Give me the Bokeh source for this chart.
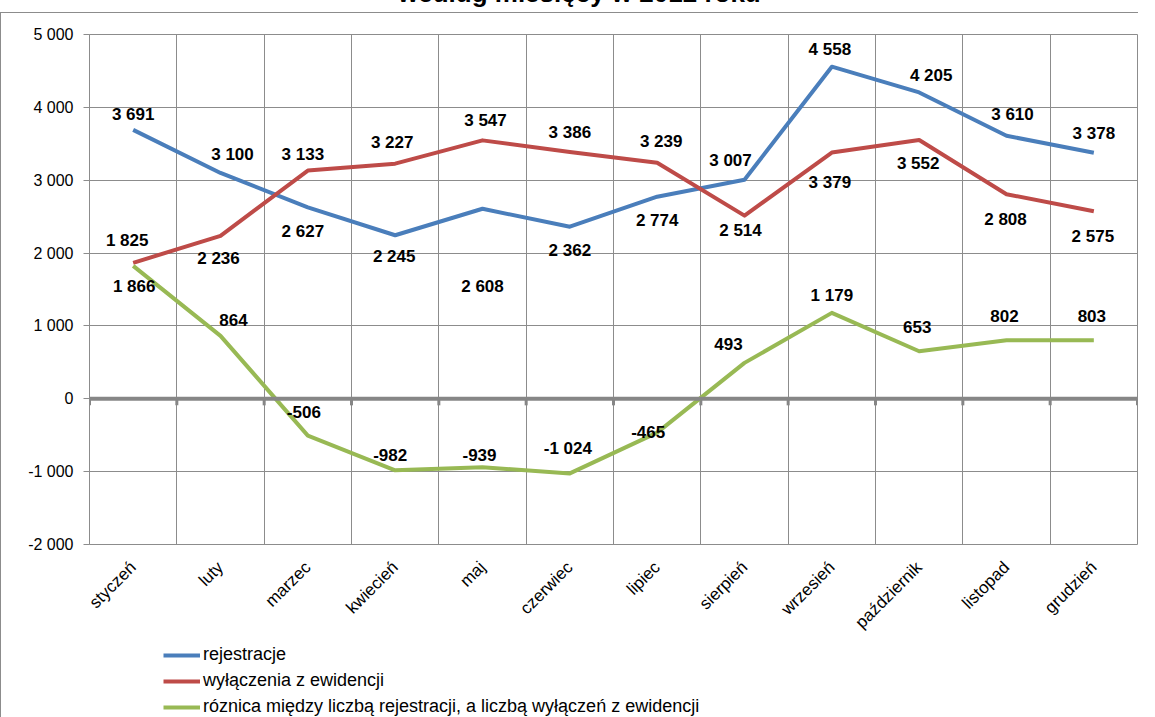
import math
from bokeh.plotting import figure
from bokeh.models import (Range1d, FixedTicker, Span, Legend, LegendItem,
                          ColumnDataSource, Div)
from bokeh.layouts import column
from bokeh.embed import file_html
from bokeh.resources import INLINE
from bokeh.core.properties import value

# ---------------- data ----------------
months = ["styczeń", "luty", "marzec", "kwiecień", "maj", "czerwiec", "lipiec",
          "sierpień", "wrzesień", "październik", "listopad", "grudzień"]
rejestracje = [3691, 3100, 2627, 2245, 2608, 2362, 2774, 3007, 4558, 4205, 3610, 3378]
wylaczenia = [1866, 2236, 3133, 3227, 3547, 3386, 3239, 2514, 3379, 3552, 2808, 2575]
roznica = [1825, 864, -506, -982, -939, -1024, -465, 493, 1179, 653, 802, 803]
y_ticks = [-2000, -1000, 0, 1000, 2000, 3000, 4000, 5000]
series_names = ["rejestracje", "wyłączenia z ewidencji",
                "róznica między liczbą rejestracji, a liczbą wyłączeń z ewidencji"]
title_text = "według miesięcy w 2012 roku"

# ---------------- style (label offsets in screen px: dx, dy; dy>0 = down) ----------------
blue_off = [(0, -15), (12, -18), (-5, 24), (-1, 21), (0, 78), (0, 24), (0, 24),
            (-14, -19), (-2, -17), (12, -17), (6, -21), (0, -19)]
red_off = [(1, 24), (-2, 23), (-5, -16), (-3, -21), (3, -20), (0, -20), (4, -21),
           (-4, 15), (-2, 30), (-1, 24), (-1, 25), (-1, 25)]
green_off = [(-6, -25), (13, -16), (-4, -24), (-5, -15), (-3, -12), (-2, -25), (-9, -1),
             (-16, -19), (0, -17), (-2, -24), (-2, -24), (-2, -24)]

C_BLUE = "#4A7EBB"
C_RED = "#BE4B48"
C_GREEN = "#98B954"
GRID = "#8c8c8c"
FONT = "Liberation Sans"
BORDER = "1px solid #8c8c8c"


def fmt(v):
    return f"{v:,}".replace(",", " ")


n = len(months)
xc = [i + 0.5 for i in range(n)]
boundaries = list(range(n + 1))
series = (rejestracje, wylaczenia, roznica)
colors = [C_BLUE, C_RED, C_GREEN]

p = figure(width=1138, height=629, output_backend="svg", toolbar_location=None,
           x_range=Range1d(0, n), y_range=Range1d(y_ticks[0], y_ticks[-1]),
           min_border_left=88, min_border_right=2, min_border_top=21,
           min_border_bottom=98)
p.styles = {"border-left": BORDER, "border-top": BORDER}
p.outline_line_color = GRID
p.outline_line_width = 1
p.background_fill_color = "white"
p.border_fill_color = "white"

# grids
p.xgrid.ticker = FixedTicker(ticks=boundaries)
p.xgrid.grid_line_color = GRID
p.ygrid.ticker = FixedTicker(ticks=y_ticks)
p.ygrid.grid_line_color = GRID

# y axis
p.yaxis.ticker = FixedTicker(ticks=y_ticks)
p.yaxis.major_label_overrides = {v: fmt(v) for v in y_ticks}
p.yaxis.axis_line_color = GRID
p.yaxis.major_tick_line_color = GRID
p.yaxis.major_tick_out = 6
p.yaxis.major_tick_in = 0
p.yaxis.minor_tick_line_color = None
p.yaxis.major_label_standoff = 10
p.yaxis.major_label_text_font = FONT
p.yaxis.major_label_text_font_size = "16px"
p.yaxis.major_label_text_color = "black"

# x axis (labels only)
p.xaxis.ticker = FixedTicker(ticks=xc)
p.xaxis.major_label_overrides = {x: m for x, m in zip(xc, months)}
p.xaxis.major_label_orientation = math.pi / 4
p.xaxis.axis_line_color = None
p.xaxis.major_tick_line_color = None
p.xaxis.minor_tick_line_color = None
p.xaxis.major_label_standoff = 14
p.xaxis.major_label_text_font = FONT
p.xaxis.major_label_text_font_size = "17px"
p.xaxis.major_label_text_color = "black"

# zero axis line with tick marks
p.add_layout(Span(location=0, dimension="width", line_color="#868686", line_width=4))
p.segment(x0=boundaries, y0=[0] * len(boundaries), x1=boundaries,
          y1=[-90] * len(boundaries), line_color="#868686", line_width=3)

for vals, col in zip(series, colors):
    p.line(xc, vals, line_color=col, line_width=4, line_join="round")

for vals, offs in zip(series, (blue_off, red_off, green_off)):
    src = ColumnDataSource(dict(x=xc, y=vals, t=[fmt(v) for v in vals],
                                dx=[o[0] for o in offs], dy=[o[1] for o in offs]))
    p.text(x="x", y="y", text="t", x_offset="dx", y_offset="dy", source=src,
           text_align="center", text_baseline="middle",
           text_font=value(FONT), text_font_style="bold",
           text_font_size="17px", text_color="black")

# ---------------- legend strip below the chart ----------------
# same series, but the strip's y-range lies outside the data, so only the legend shows
lf = figure(width=1138, height=77, output_backend="svg", toolbar_location=None,
            x_range=Range1d(0, n), y_range=Range1d(10000, 10001),
            x_axis_type=None, y_axis_type=None,
            min_border_left=0, min_border_right=0, min_border_top=0,
            min_border_bottom=0)
lf.styles = {"border-left": BORDER}
lf.outline_line_color = None
lf.xgrid.visible = False
lf.ygrid.visible = False
leg_renderers = [lf.line(xc, vals, line_color=c, line_width=4)
                 for vals, c in zip(series, colors)]
legend = Legend(items=[LegendItem(label=nm, renderers=[r])
                       for nm, r in zip(series_names, leg_renderers)],
                location=(74, 1), orientation="vertical",
                glyph_width=37, glyph_height=20, label_height=20, spacing=5,
                label_standoff=3, padding=0, margin=0,
                border_line_color=None, background_fill_alpha=0,
                label_text_font=FONT, label_text_font_size="18px",
                label_text_color="black")
lf.add_layout(legend, "center")

title = Div(text=('<div style="padding-left:393px;font-family:\'Liberation Sans\';'
                  'font-weight:bold;font-size:26px;line-height:30px;white-space:nowrap">'
                  + title_text + '</div>'),
            width=1139, height=29)

layout = column(title, p, lf, styles={"margin-top": "-27px", "margin-bottom": "-8px"})

open("out.html", "w").write(file_html(layout, INLINE))
